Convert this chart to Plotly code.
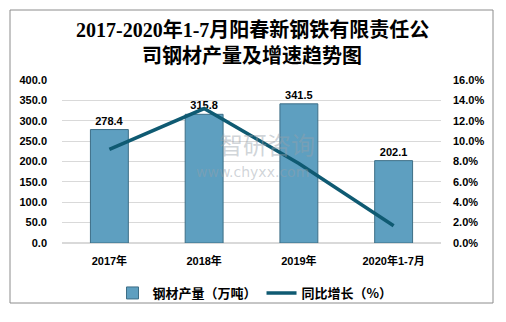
import plotly.graph_objects as go

categories = ["2017年", "2018年", "2019年", "2020年1-7月"]
output_vals = [278.4, 315.8, 341.5, 202.1]
growth_vals = [9.2, 13.2, 7.8, 1.7]
left_ticks = [0, 50, 100, 150, 200, 250, 300, 350, 400]
right_ticks = [0, 2, 4, 6, 8, 10, 12, 14, 16]

L, R, T, B = 62, 65, 80, 79
W, H = 506, 322
pw = W - L - R
ph = H - T - B

def px_to_paper_x(px):
    return (px - L) / pw

def px_to_paper_y(py):
    return (H - B - py) / ph

fig = go.Figure()
fig.add_trace(go.Bar(
    x=categories, y=output_vals, name="<b>钢材产量（万吨）</b>",
    marker=dict(color="#5E9FC0", line=dict(color="#3D6E86", width=1)),
    width=0.4,
    text=[f"<b>{v:.1f}</b>" for v in output_vals], textposition="outside",
    textfont=dict(size=11, color="#000000", family="Liberation Sans, Arial"),
    cliponaxis=False,
))
fig.add_trace(go.Scatter(
    x=categories, y=growth_vals, name="<b>同比增长（%）</b>", yaxis="y2",
    mode="lines", line=dict(color="#0F5A72", width=3.5),
))

tick_font = dict(size=11, color="#000000", family="Liberation Sans, Arial")
fig.update_layout(
    width=W, height=H,
    margin=dict(l=L, r=R, t=T, b=B),
    paper_bgcolor="white", plot_bgcolor="white",
    showlegend=True,
    legend=dict(orientation="h", x=px_to_paper_x(255), xanchor="center",
                y=px_to_paper_y(293), yanchor="middle",
                font=dict(size=13, color="#000000", family="Noto Sans CJK SC"),
                itemwidth=30, bgcolor="rgba(0,0,0,0)"),
    bargap=0.6,
    xaxis=dict(showgrid=False, showline=False, ticks="",
               tickvals=categories, ticktext=[f"<b>{c}</b>" for c in categories],
               tickfont=dict(size=11, color="#000000", family="Liberation Sans, Noto Sans CJK SC"),
               ticklabelstandoff=10),
    yaxis=dict(range=[0, 400], tickvals=left_ticks,
               ticktext=[f"<b>{v:.1f}</b>" for v in left_ticks],
               showgrid=True, gridcolor="#D9D9D9", gridwidth=1,
               zeroline=True, zerolinecolor="#D9D9D9", showline=False, ticks="",
               tickfont=tick_font, ticklabelstandoff=14),
    yaxis2=dict(range=[0, 16], tickvals=right_ticks,
                ticktext=[f"<b>{v:.1f}%</b>" for v in right_ticks],
                overlaying="y", side="right", showgrid=False, zeroline=False,
                showline=False, ticks="", tickfont=tick_font, ticklabelstandoff=11),
    font=dict(family="Noto Sans CJK SC"),
)

title_font = dict(size=20, color="#000000", family="Liberation Serif, Noto Sans CJK SC")
fig.add_annotation(
    text="<b>2017-2020年1-7月阳春新钢铁有限责任公</b>",
    xref="paper", yref="paper", x=px_to_paper_x(252), y=px_to_paper_y(30),
    xanchor="center", yanchor="middle", showarrow=False, font=title_font,
)
fig.add_annotation(
    text="<b>司钢材产量及增速趋势图</b>",
    xref="paper", yref="paper", x=px_to_paper_x(252), y=px_to_paper_y(56),
    xanchor="center", yanchor="middle", showarrow=False, font=title_font,
)
fig.add_annotation(
    text="智研咨询", xref="paper", yref="paper",
    x=px_to_paper_x(267), y=px_to_paper_y(143), xanchor="center", yanchor="middle",
    showarrow=False, font=dict(size=24, color="rgba(150,160,170,0.45)", family="Noto Sans CJK SC"),
)
fig.add_annotation(
    text="www.chyxx.com", xref="paper", yref="paper",
    x=px_to_paper_x(252), y=px_to_paper_y(172), xanchor="center", yanchor="middle",
    showarrow=False, font=dict(size=14, color="rgba(150,160,170,0.45)", family="DejaVu Sans"),
)
fig.add_shape(type="rect", xref="paper", yref="paper",
              x0=px_to_paper_x(10), x1=px_to_paper_x(493),
              y0=px_to_paper_y(303), y1=px_to_paper_y(10),
              line=dict(color="#8C8C8C", width=1), layer="below")

fig.write_html("out.html")
